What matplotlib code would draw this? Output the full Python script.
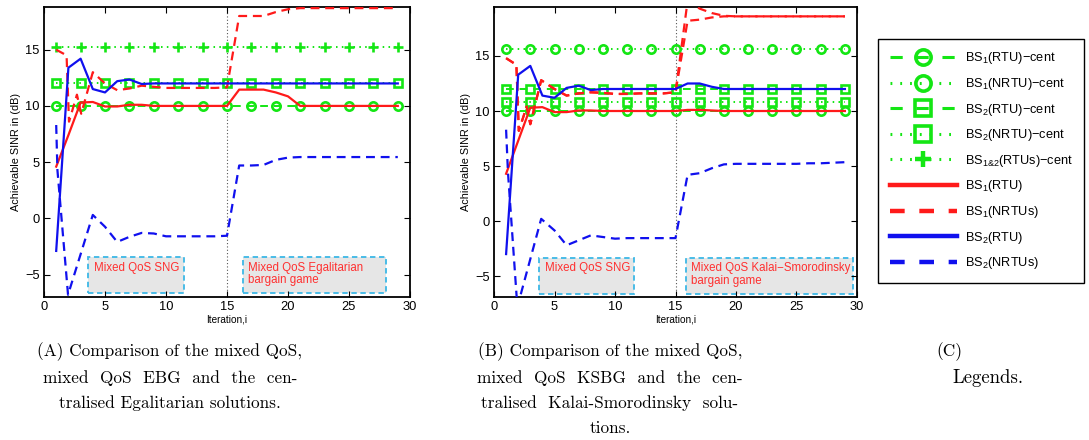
import matplotlib
matplotlib.use('Agg')
import matplotlib.pyplot as plt
from matplotlib.lines import Line2D
from matplotlib.patches import Rectangle

plt.rcParams['font.family'] = ['Liberation Sans', 'DejaVu Sans']
plt.rcParams['mathtext.fontset'] = 'custom'
plt.rcParams['mathtext.rm'] = 'Liberation Sans'
plt.rcParams['mathtext.it'] = 'Liberation Sans:italic'
plt.rcParams['mathtext.bf'] = 'Liberation Sans:bold'

# ---------------- data ----------------
cent_x = list(range(1, 30, 2))
iters = list(range(1, 30))

# (A) Egalitarian
eg_bs1_rtu_cent = 10.0
eg_bs2_nrtu_cent = 12.0
eg_bs12_rtus_cent = 15.2

eg_bs1_rtu = [4.6, 7.4, 10.3, 10.35, 9.95, 9.95, 10.1, 10.1, 10.0, 10.0,
              10.0, 10.0, 10.0, 10.0, 10.0, 11.45, 11.45, 11.45, 11.2, 10.85,
              10.0, 10.0, 10.0, 10.0, 10.0, 10.0, 10.0, 10.0, 10.0]
eg_bs2_rtu = [-2.9, 13.4, 14.2, 11.5, 11.2, 12.2, 12.35, 11.95, 12.0, 12.0,
              12.0, 12.0, 12.0, 12.0, 12.0, 12.0, 12.0, 12.0, 12.0, 12.0,
              12.0, 12.0, 12.0, 12.0, 12.0, 12.0, 12.0, 12.0, 12.0]
eg_bs1_nrtu_x = [1, 1.85, 2.05, 2.7, 3.05, 4, 5, 6, 7, 8, 9, 10, 11, 12, 13,
                 14, 15, 16, 17, 18, 19, 20, 21, 22, 23, 24, 25, 26, 27, 28, 29]
eg_bs1_nrtu = [15.0, 14.5, 8.6, 11.0, 9.3, 13.0, 12.0, 11.4, 11.55, 11.8,
               11.7, 11.6, 11.6, 11.6, 11.6, 11.6, 11.65, 18.0, 18.0, 18.0,
               18.35, 18.6, 18.7, 18.7, 18.7, 18.7, 18.7, 18.7, 18.7, 18.7, 18.7]
eg_bs2_nrtu_x = [1, 1.1, 1.97, 4, 5, 6, 7, 8, 9, 10, 11, 12, 13, 14, 15,
                 16, 17, 18, 19, 20, 21, 22, 23, 24, 25, 26, 27, 28, 29]
eg_bs2_nrtu = [8.3, 4.3, -6.8, 0.3, -0.75, -2.1, -1.65, -1.3, -1.35, -1.6,
               -1.6, -1.6, -1.6, -1.6, -1.55, 4.7, 4.7, 4.75, 5.2, 5.4,
               5.45, 5.45, 5.45, 5.45, 5.45, 5.45, 5.45, 5.45, 5.45]

# (B) Kalai-Smorodinsky
ks_bs1_rtu_cent = 10.0
ks_bs1_nrtu_cent = 15.6
ks_bs2_rtu_cent = 12.0
ks_bs2_nrtu_cent = 10.8

ks_bs1_rtu = [4.3, 7.3, 10.3, 10.35, 9.9, 9.9, 10.05, 10.05, 10.0, 10.0,
              10.0, 10.0, 10.0, 10.0, 10.0, 10.1, 10.1, 10.05, 10.0, 10.0,
              10.0, 10.0, 10.0, 10.0, 10.0, 10.0, 10.0, 10.0, 10.0]
ks_bs2_rtu = [-3.0, 13.3, 14.1, 11.4, 11.2, 12.1, 12.3, 11.9, 12.0, 12.0,
              12.0, 12.0, 12.0, 12.0, 12.0, 12.5, 12.5, 12.2, 12.0, 12.0,
              12.0, 12.0, 12.0, 12.0, 12.0, 12.0, 12.0, 12.0, 12.0]
ks_bs1_nrtu_x = [1, 1.85, 2.05, 2.7, 3.0, 3.9, 5, 6, 7, 8, 9, 10, 11, 12, 13,
                 14, 15, 16, 17, 18, 19, 20, 21, 22, 23, 24, 25, 26, 27, 28, 29]
ks_bs1_nrtu_a = [14.8, 14.2, 8.2, 10.4, 8.8, 12.8, 12.0, 11.4, 11.6, 11.7,
                 11.65, 11.55, 11.55, 11.6, 11.6, 11.6, 11.7, 18.2, 18.3, 18.5,
                 18.6, 18.6, 18.6, 18.6, 18.6, 18.6, 18.6, 18.6, 18.6, 18.6, 18.6]
ks_bs1_nrtu_b = [14.8, 14.2, 8.2, 10.4, 8.8, 12.8, 12.0, 11.4, 11.6, 11.7,
                 11.65, 11.55, 11.55, 11.6, 11.6, 11.6, 11.7, 20.0, 19.3, 18.9,
                 18.65, 18.6, 18.6, 18.6, 18.6, 18.6, 18.6, 18.6, 18.6, 18.6, 18.6]
ks_bs2_nrtu_x = [1, 1.15, 1.93, 3.9, 5, 6, 7, 8, 9, 10, 11, 12, 13, 14, 15,
                 16, 17, 18, 19, 20, 21, 22, 23, 24, 25, 26, 27, 28, 29]
ks_bs2_nrtu = [8.3, 4.5, -7.8, 0.2, -0.85, -2.2, -1.75, -1.3, -1.45, -1.6,
               -1.55, -1.55, -1.55, -1.55, -1.55, 4.2, 4.35, 4.8, 5.15, 5.2,
               5.2, 5.2, 5.2, 5.2, 5.2, 5.25, 5.25, 5.3, 5.35]

labels = ['BS$_1$(RTU)\u2212cent', 'BS$_1$(NRTU)\u2212cent',
          'BS$_2$(RTU)\u2212cent', 'BS$_2$(NRTU)\u2212cent',
          'BS$_{1&2}$(RTUs)\u2212cent', 'BS$_1$(RTU)', 'BS$_1$(NRTUs)',
          'BS$_2$(RTU)', 'BS$_2$(NRTUs)']

# ---------------- style ----------------
GREEN = '#14e614'
RED = '#ff1a1a'
BLUE = '#1010ee'
BOXEDGE = '#3cb8e6'
DASH = (4.0, 2.6)
GDASH = (4.0, 3.0)
GDOT = (0.8, 2.2)

W, H = 1089, 440
fig = plt.figure(figsize=(W / 100, H / 100), dpi=100)


def px_axes(x0, x1, y0, y1):
    return fig.add_axes([x0 / W, 1 - y1 / H, (x1 - x0) / W, (y1 - y0) / H])


def green(ax, y, ls, marker, ms=6):
    ax.plot(cent_x, [y] * len(cent_x), color=GREEN, lw=1.4,
            dashes=(GDASH if ls == '--' else GDOT), marker=marker, ms=ms,
            mfc='none', mec=GREEN, mew=1.9, zorder=2)


def style_axes(ax, ylim):
    ax.set_xlim(0, 30)
    ax.set_ylim(*ylim)
    ax.set_xticks(range(0, 31, 5))
    ax.set_yticks([-5, 0, 5, 10, 15])
    ax.set_yticklabels(['\u22125', '0', '5', '10', '15'])
    ax.tick_params(direction='in', length=4, width=0.8, top=True, right=True,
                   labelsize=9.3, pad=3)
    for s in ax.spines.values():
        s.set_linewidth(1.3)
    ax.set_xlabel('Iteration,i', fontsize=7.2, labelpad=1)
    ax.set_ylabel('Achievable SINR in (dB)', fontsize=7.8, labelpad=3)
    ax.axvline(15, color='#555555', lw=0.8, ls=(0, (1, 2)), zorder=1)


def box(ax, x0, x1, y0, y1, text, tx, ty):
    ax.add_patch(Rectangle((x0, y0), x1 - x0, y1 - y0, facecolor='#e6e6e6',
                           edgecolor=BOXEDGE, lw=1.3, ls=(0, (3, 2)), zorder=1.5))
    ax.text(tx, ty, text, color='#ff3030', fontsize=8.3, ha='left', va='top',
            linespacing=1.1, zorder=3)


# ---- (A) ----
axA = px_axes(44, 410, 7, 297)
green(axA, eg_bs1_rtu_cent, '--', 'o')
green(axA, eg_bs2_nrtu_cent, ':', 's', 5.5)
green(axA, eg_bs12_rtus_cent, ':', '+', 6.5)
axA.plot(iters, eg_bs1_rtu, color=RED, lw=1.6, zorder=3)
axA.plot(eg_bs1_nrtu_x, eg_bs1_nrtu, color=RED, lw=1.6, dashes=DASH, zorder=3)
axA.plot(iters, eg_bs2_rtu, color=BLUE, lw=1.6, zorder=3)
axA.plot(eg_bs2_nrtu_x, eg_bs2_nrtu, color=BLUE, lw=1.6, dashes=DASH, zorder=3)
style_axes(axA, (-7.0, 18.8))
box(axA, 3.6, 11.5, -6.65, -3.45, 'Mixed QoS SNG', 4.1, -3.85)
box(axA, 16.3, 28.0, -6.65, -3.45, 'Mixed QoS Egalitarian\nbargain game', 16.75, -3.85)

# ---- (B) ----
axB = px_axes(494, 857, 7, 297)
green(axB, ks_bs1_nrtu_cent, ':', 'o')
green(axB, ks_bs2_rtu_cent, '--', 's', 5.5)
green(axB, ks_bs2_nrtu_cent, ':', 's', 5.5)
green(axB, ks_bs1_rtu_cent, '--', 'o')
axB.plot(iters, ks_bs1_rtu, color=RED, lw=1.6, zorder=3)
axB.plot(ks_bs1_nrtu_x, ks_bs1_nrtu_a, color=RED, lw=1.6, dashes=DASH, zorder=3)
axB.plot(ks_bs1_nrtu_x, ks_bs1_nrtu_b, color=RED, lw=1.6, dashes=DASH, zorder=3)
axB.plot(iters, ks_bs2_rtu, color=BLUE, lw=1.6, zorder=3)
axB.plot(ks_bs2_nrtu_x, ks_bs2_nrtu, color=BLUE, lw=1.6, dashes=DASH, zorder=3)
style_axes(axB, (-6.9, 19.45))
box(axB, 3.7, 11.6, -6.6, -3.35, 'Mixed QoS SNG', 4.2, -3.75)
box(axB, 15.85, 29.7, -6.6, -3.35, 'Mixed QoS Kalai\u2212Smorodinsky\nbargain game', 16.3, -3.75)

# ---- (C) legend ----
handles = [
    Line2D([], [], color=GREEN, lw=2.2, dashes=(4, 4.5), marker='o', ms=11, mfc='none', mew=2.6),
    Line2D([], [], color=GREEN, lw=2.2, dashes=(0.6, 2.6), marker='o', ms=11, mfc='none', mew=2.6),
    Line2D([], [], color=GREEN, lw=2.2, dashes=(4, 4.5), marker='s', ms=11, mfc='none', mew=2.6),
    Line2D([], [], color=GREEN, lw=2.2, dashes=(0.6, 2.6), marker='s', ms=11, mfc='none', mew=2.6),
    Line2D([], [], color=GREEN, lw=2.2, dashes=(0.6, 2.6), marker='+', ms=11, mew=3.2),
    Line2D([], [], color=RED, lw=3.2),
    Line2D([], [], color=RED, lw=3.2, dashes=(3.3, 3.3)),
    Line2D([], [], color=BLUE, lw=3.2),
    Line2D([], [], color=BLUE, lw=3.2, dashes=(3.3, 3.3)),
]
leg = fig.legend(handles, labels, loc='upper left',
                 bbox_to_anchor=(878 / W, 1 - 39 / H), borderaxespad=0,
                 fontsize=9.2, handlelength=5.3, handletextpad=0.6,
                 borderpad=0.9, labelspacing=0.75, numpoints=1,
                 fancybox=False, framealpha=1, edgecolor='black')
leg.get_frame().set_linewidth(1.0)

# ---- captions ----
cap = dict(fontfamily='cmr10', fontsize=12.4, ha='center', va='center')
fig.text(170 / W, 1 - 352 / H, '(A) Comparison of the mixed QoS,', **cap)
fig.text(170 / W, 1 - 378 / H, 'mixed  QoS  EBG  and  the  cen-', **cap)
fig.text(170 / W, 1 - 403 / H, 'tralised Egalitarian solutions.', **cap)
fig.text(610 / W, 1 - 352 / H, '(B) Comparison of the mixed QoS,', **cap)
fig.text(610 / W, 1 - 378 / H, 'mixed  QoS  KSBG  and  the  cen-', **cap)
fig.text(610 / W, 1 - 403 / H, 'tralised  Kalai-Smorodinsky  solu-', **cap)
fig.text(610 / W, 1 - 428 / H, 'tions.', **cap)
fig.text(949 / W, 1 - 352 / H, '(C)', **cap)
fig.text(988 / W, 1 - 378 / H, 'Legends.', fontfamily='cmr10', fontsize=13.5,
         ha='center', va='center')

fig.savefig('out.png', dpi=100)
